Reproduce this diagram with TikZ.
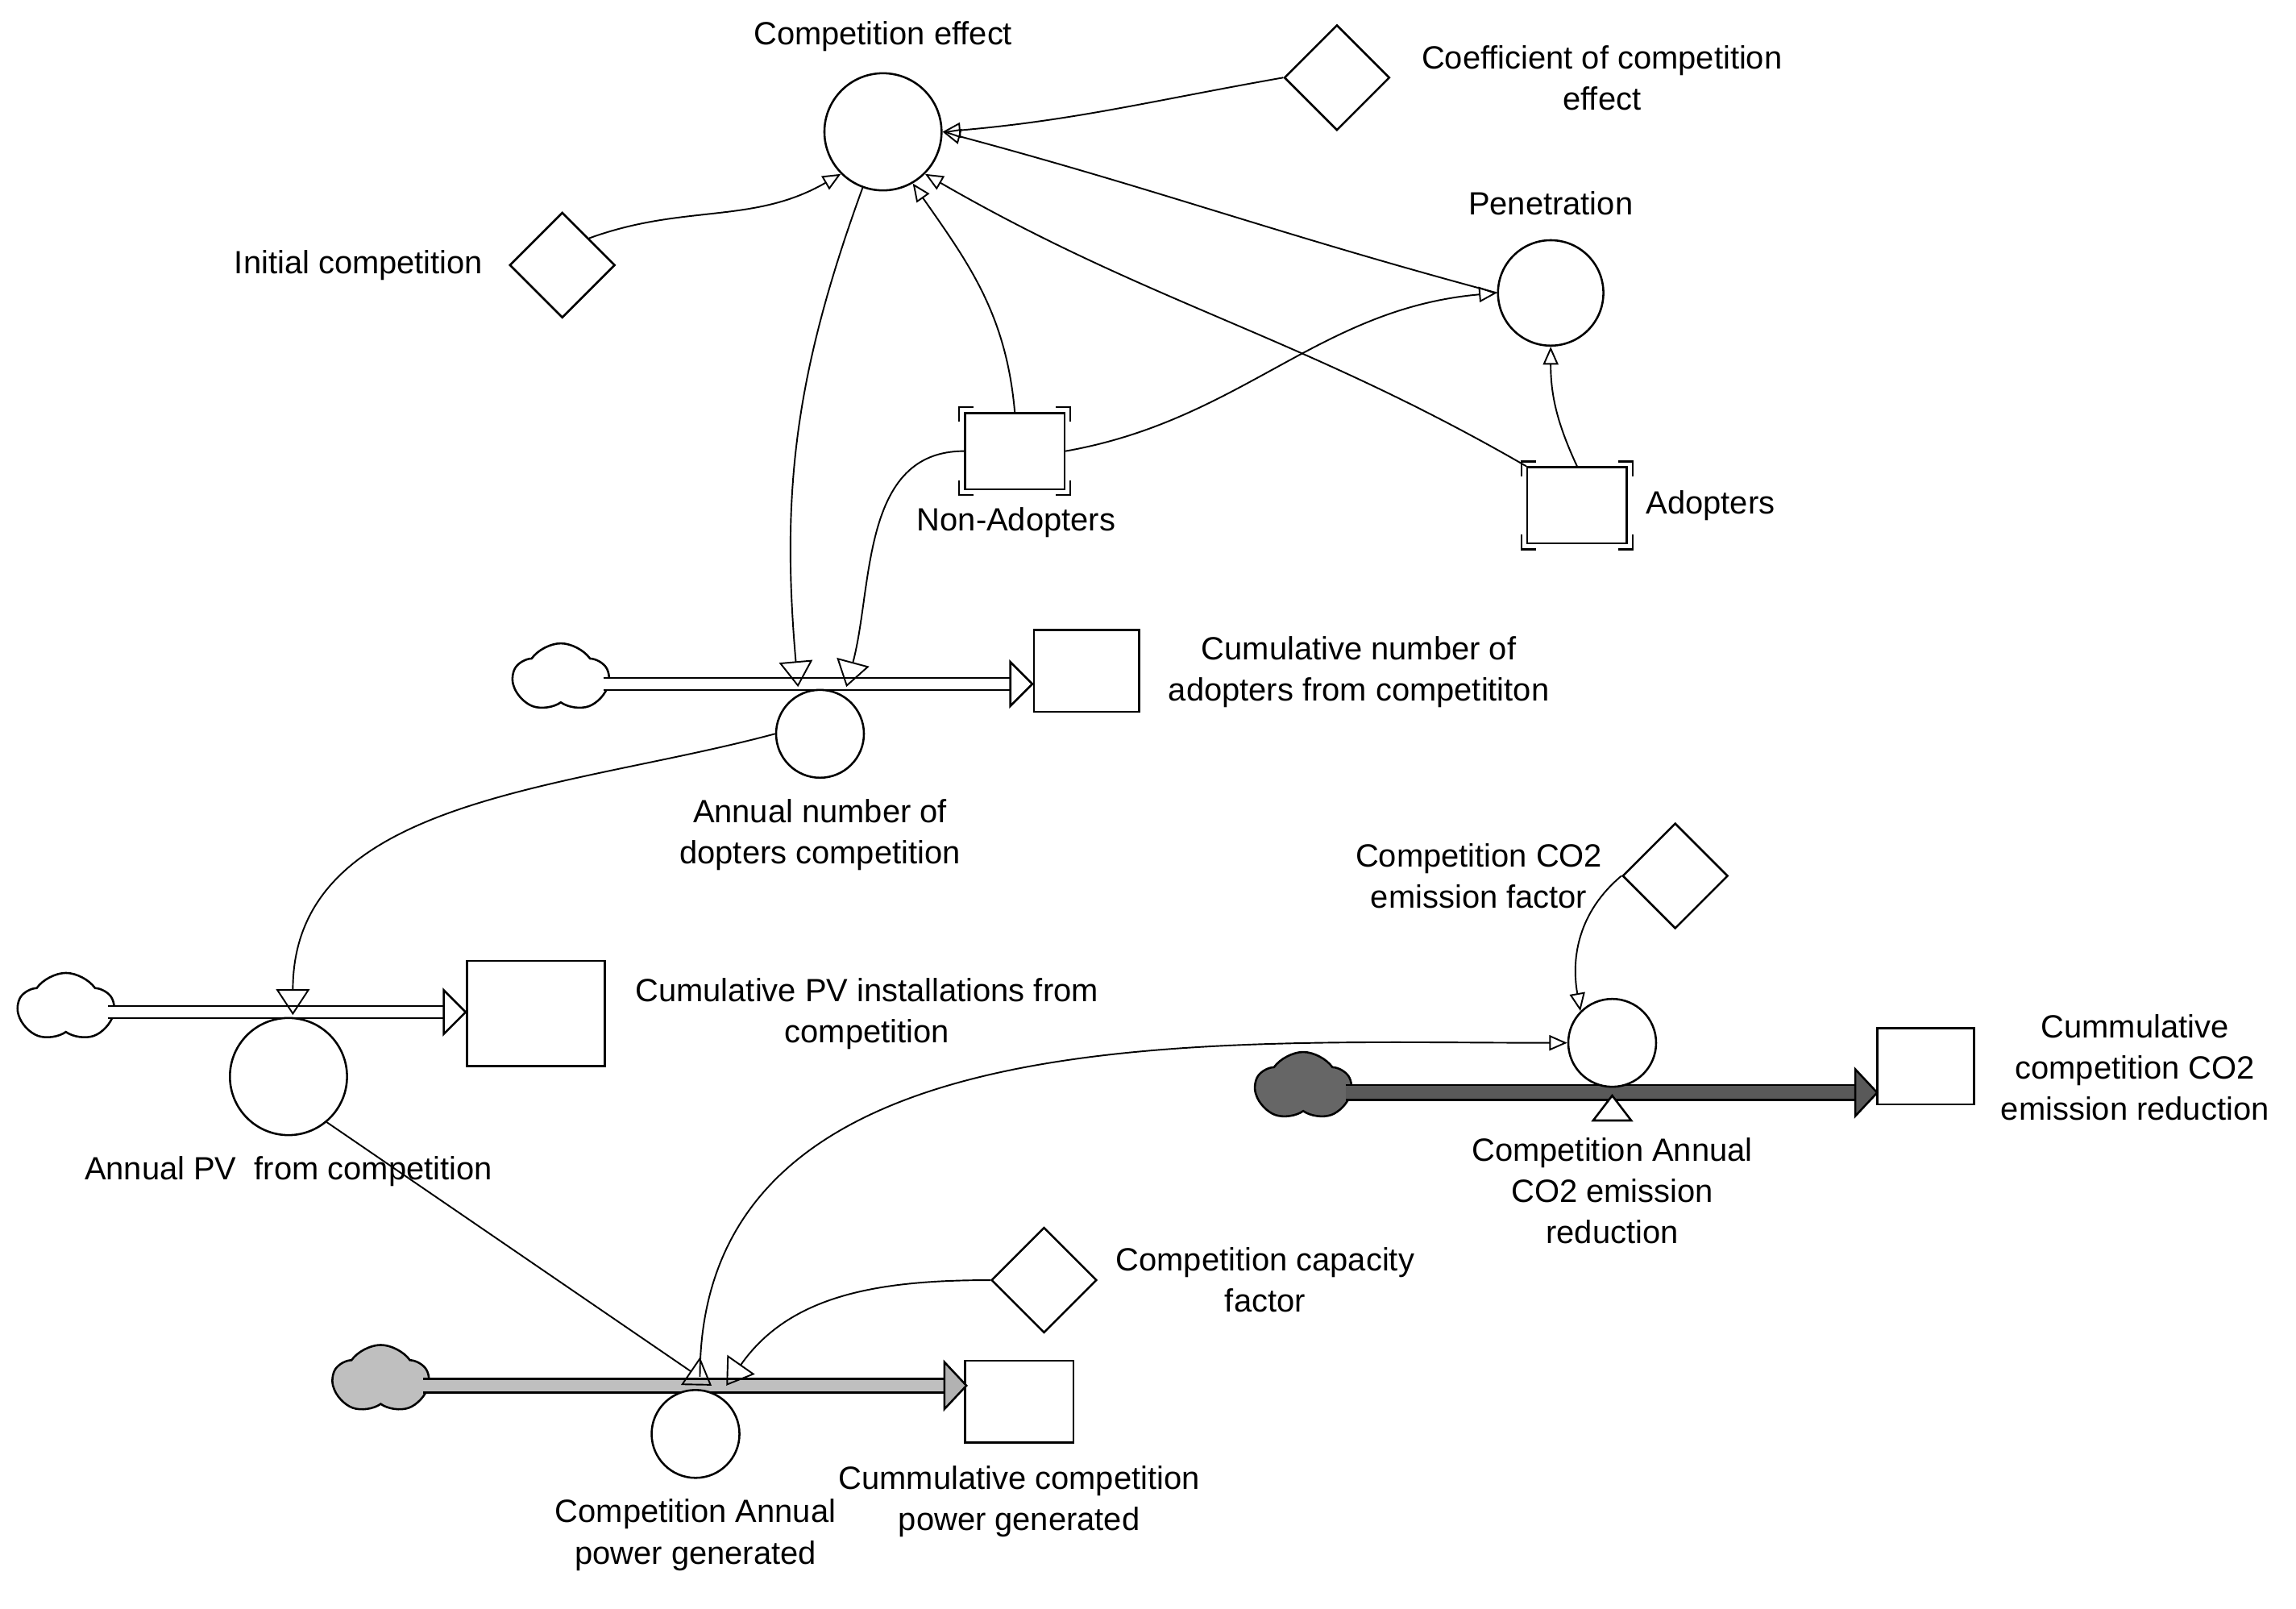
\documentclass[tikz,border=0pt]{standalone}
\usepackage{fontspec}
\setmainfont{Liberation Sans}
\usetikzlibrary{arrows.meta,shapes.geometric,shapes.symbols}
\begin{document}
\begin{tikzpicture}[x=0.02cm,y=-0.02cm,
 lab/.style={font=\fontsize{12.5}{16}\selectfont, align=center},
 circ/.style={circle, draw, thick, minimum size=#1, inner sep=0pt, fill=white},
 dia/.style={diamond, draw, thick, minimum width=1.44cm, minimum height=1.44cm, inner sep=0pt},
 box/.style={rectangle, draw, thick, inner sep=0pt, fill=white},
 cl/.style={cloud, cloud puffs=5, cloud puff arc=110, draw, thick, minimum width=1.3cm, minimum height=0.95cm, aspect=1.5, fill=#1},
 con/.style={-{Triangle[open,length=7pt,width=6pt]}, semithick},
 conbig/.style={-{Triangle[open,length=10pt,width=13pt]}, semithick},
 pipe/.style 2 args={double=#1, double distance=#2, line width=0.8pt},
 brk/.pic={\draw[thick] (-38,-20)--(-38,-30)--(-28,-30) (28,-30)--(38,-30)--(38,-20) (38,20)--(38,30)--(28,30) (-28,30)--(-38,30)--(-38,20);}
]
\useasboundingbox (0,0) rectangle (1568,1098);
% top nodes
\node[circ=1.6cm] (ce) at (603,90) {};
\node[lab] at (603,25) {Competition effect};
\node[dia] (coef) at (913,53) {};
\node[lab] at (1094,53) {Coefficient of competition\\effect};
\node[dia] (init) at (384,181) {};
\node[lab, anchor=east] at (336,181) {Initial competition};
\node[circ=1.44cm] (pen) at (1059,200) {};
\node[lab] at (1059,139) {Penetration};
\node[box, minimum width=1.36cm, minimum height=1.04cm] (non) at (693,308) {};
\pic at (693,308) {brk};
\node[lab] at (694,357) {Non-Adopters};
\node[box, minimum width=1.36cm, minimum height=1.04cm] (adp) at (1077,345) {};
\pic at (1077,345) {brk};
\node[lab, anchor=west] at (1118,345) {Adopters};
% flow 1
\node[cl=white] (cl1) at (383,463) {};
\coordinate (p1a) at (412,467); \coordinate (p1b) at (690,467);
\node[box, minimum width=1.44cm, minimum height=1.12cm] (st1) at (742,458) {};
\draw[pipe={white}{4pt}] (p1a) -- (p1b);
\draw[thick, fill=white] (690,452) -- (705,467) -- (690,482) -- cycle;
\node[circ=1.2cm] (v1) at (560,501) {};
\node[lab] at (560,570) {Annual number of\\dopters competition};
\node[lab] at (928,459) {Cumulative number of\\adopters from competititon};
% flow 2
\node[cl=white] (cl2) at (45,688) {};
\coordinate (p2a) at (74,691); \coordinate (p2b) at (303,691);
\node[box, minimum width=1.88cm, minimum height=1.44cm] (st2) at (366,692) {};
\draw[pipe={white}{4pt}] (p2a) -- (p2b);
\draw[thick, fill=white] (303,676) -- (318,691) -- (303,706) -- cycle;
\node[circ=1.6cm] (v2) at (197,735) {};
\node[lab] at (197,800) {Annual PV\ \ from competition};
\node[lab] at (592,692) {Cumulative PV installations from\\competition};
% flow 3
\node[cl=gray!80!black] (cl3) at (890,742) {};
\coordinate (p3a) at (919,746); \coordinate (p3b) at (1267,746);
\node[box, minimum width=1.32cm, minimum height=1.04cm] (st3) at (1315,728) {};
\draw[pipe={gray!70!black}{5pt}] (p3a) -- (p3b);
\draw[thick, fill=gray!70!black] (1267,730) -- (1282,746) -- (1267,762) -- cycle;
\node[circ=1.2cm] (v3) at (1101,712) {};
\draw[thick, fill=white] (1088,765) -- (1101,748) -- (1114,765) -- cycle;
\node[lab] at (1101,813) {Competition Annual\\CO2 emission\\reduction};
\node[lab] at (1458,729) {Cummulative\\competition CO2\\emission reduction};
\node[dia] (co2) at (1144,598) {};
\node[lab] at (1010,598) {Competition CO2\\emission factor};
% flow 4
\node[cl=gray!50] (cl4) at (260,942) {};
\coordinate (p4a) at (289,946); \coordinate (p4b) at (645,946);
\node[box, minimum width=1.48cm, minimum height=1.12cm] (st4) at (696,957) {};
\draw[pipe={gray!50}{4.5pt}] (p4a) -- (p4b);
\draw[thick, fill=gray!60] (645,930) -- (660,946) -- (645,962) -- cycle;
\node[circ=1.2cm] (v4) at (475,979) {};
\node[lab] at (475,1048) {Competition Annual\\power generated};
\node[lab] at (696,1025) {Cummulative competition\\power generated};
\node[dia] (cap) at (713,874) {};
\node[lab] at (864,874) {Competition capacity\\factor};
% connectors
\coordinate (t1a) at (545,469); \coordinate (t1b) at (578,469);
\coordinate (t2) at (200,693);
\coordinate (t4a) at (478,946); \coordinate (t4b) at (496,946); \coordinate (t4c) at (486,946);
\draw[con] (coef.west) to[out=190,in=5] (ce.east);
\draw[con] (init.north east) to[out=20,in=210] (ce.south west);
\draw[con] (pen.west) to[out=165,in=-15] (ce.east);
\draw[con] (adp.north west) to[out=150,in=-30] (ce.south east);
\draw[con] (non.north) to[out=95,in=-55] (ce.-60);
\draw[con] (non.east) to[out=10,in=185] (pen.west);
\draw[con] (adp.north) to[out=115,in=-90] (pen.south);
\draw[conbig] (ce.-110) to[out=-110,in=95] (t1a);
\draw[conbig] (non.west) to[out=180,in=75] (t1b);
\draw[conbig] (v1.west) to[out=195,in=90] (t2);
\draw[conbig] (v2.-50) -- (t4c);
\draw[con] (co2.west) to[out=220,in=100] (v3.north west);
\draw[conbig] (cap.west) to[out=180,in=55] (t4b);
\draw[con] (t4a) ++(0,-6) to[out=90,in=180] (v3.west);
\end{tikzpicture}
\end{document}
